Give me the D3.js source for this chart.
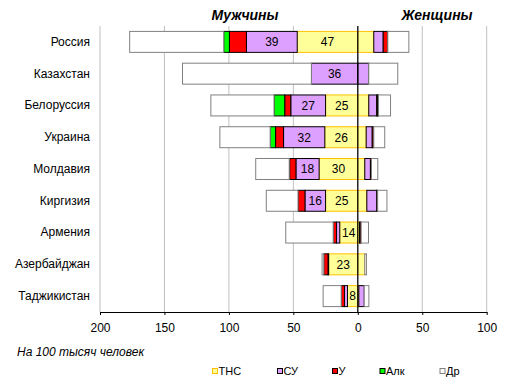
<!DOCTYPE html>
<html>
<head>
<meta charset="utf-8">
<script src="https://cdn.jsdelivr.net/npm/d3@7"></script>
<style>
	body { margin: 0; background: white; }
	text { font-family: Arial, "Liberation Sans", sans-serif; }
</style>
</head>
<body>
<script>

//****************************************************************************************************************************//
// Data

var countries = ["Россия", "Казахстан", "Белоруссия", "Украина", "Молдавия", "Киргизия", "Армения", "Азербайджан", "Таджикистан"];
var causes = ["ТНС", "СУ", "У", "Алк", "Др"];

// men, per 100 000 (drawn to the left)
var men_TNS = [47, 0, 25, 25.6, 30, 25, 14, 22.6, 8];
var men_SU  = [39.4, 36, 27, 32, 18, 16, 2.5, 0.5, 2.3];
var men_U   = [13.2, 0, 4.7, 6.2, 4.9, 5.4, 2.6, 3.3, 2.6];
var men_Alk = [4.4, 0, 8.3, 4.2, 0.3, 0, 0, 0, 0];
var men_Dr  = [73, 100, 49, 39, 26, 24.6, 36.8, 1.3, 14];

// women, per 100 000 (drawn to the right)
var women_TNS = [12.4, 0, 8.5, 6.5, 5.4, 7, 1.3, 5.4, 0.8];
var women_SU  = [7.3, 8.5, 6.2, 4.7, 4.4, 7.8, 0.5, 0, 4.2];
var women_U   = [3.6, 0, 0.8, 1.2, 0.8, 0.6, 0.8, 0, 0];
var women_Alk = [0, 0, 0.6, 0, 0, 0, 0, 0, 0];
var women_Dr  = [16.3, 22.5, 9.3, 8.5, 4.9, 7.2, 5.7, 1.3, 3.6];

var xTicks = [-200, -150, -100, -50, 0, 50, 100];

//****************************************************************************************************************************//
// Canvas

var width = 512;
var height = 388;

var canvas = d3.select("body").append("svg")
				.attr("width", width)
				.attr("height", height);

var fills = { "ТНС" : "#FFFF99", "СУ" : "#DDA0FF", "У" : "#FF0000", "Алк" : "#00FF00", "Др" : "#FFFFFF" };
var strokes = { "ТНС" : "#FFC000", "СУ" : "#000000", "У" : "#000000", "Алк" : "#000000", "Др" : "#808080" };

var plot = { left : 100, right : 486.7, top : 26, bottom : 312 };

var x = d3.scaleLinear()
			.domain([-200, 100])
			.range([plot.left, plot.right]);

var y = d3.scaleBand()
			.domain(countries)
			.range([plot.top, plot.bottom])
			.paddingInner(0.34)
			.paddingOuter(0.17);

//****************************************************************************************************************************//
// Stacks

var menTable = countries.map(function(c, i){
	return { country : c, "ТНС" : men_TNS[i], "СУ" : men_SU[i], "У" : men_U[i], "Алк" : men_Alk[i], "Др" : men_Dr[i] };
});
var womenTable = countries.map(function(c, i){
	return { country : c, "ТНС" : women_TNS[i], "СУ" : women_SU[i], "У" : women_U[i], "Алк" : women_Alk[i], "Др" : women_Dr[i] };
});

var stack = d3.stack().keys(causes);
var menStack = stack(menTable);
var womenStack = stack(womenTable);

//****************************************************************************************************************************//
// Grid

canvas.append("g")
	.selectAll("line")
	.data(xTicks.filter(function(t){ return t != 0; }))
	.join("line")
		.attr("x1", function(d){ return x(d); })
		.attr("x2", function(d){ return x(d); })
		.attr("y1", plot.top)
		.attr("y2", plot.bottom)
		.attr("stroke", "#C0C0C0")
		.attr("stroke-width", 1);

//****************************************************************************************************************************//
// Bars

function drawSide(series, sign){
	var g = canvas.append("g");
	series.forEach(function(s){
		g.append("g")
			.selectAll("rect")
			.data(s.filter(function(d){ return d[1] - d[0] > 0; }))
			.join("rect")
				.attr("x", function(d){ return sign < 0 ? x(-d[1]) : x(d[0]); })
				.attr("y", function(d){ return y(d.data.country); })
				.attr("width", function(d){ return Math.abs(x(d[1]) - x(d[0])); })
				.attr("height", y.bandwidth())
				.attr("fill", fills[s.key])
				.attr("stroke", strokes[s.key])
				.attr("stroke-width", 1);
	});
}

drawSide(menStack, -1);
drawSide(womenStack, 1);

// value labels on men ТНС and СУ
menStack.filter(function(s){ return s.key == "ТНС" || s.key == "СУ"; }).forEach(function(s){
	canvas.append("g")
		.selectAll("text")
		.data(s.filter(function(d){ return d[1] - d[0] >= 5; }))
		.join("text")
			.attr("x", function(d){ return x(-(d[0] + d[1]) / 2); })
			.attr("y", function(d){ return y(d.data.country) + y.bandwidth() / 2; })
			.attr("dy", "0.36em")
			.attr("text-anchor", "middle")
			.style("font-size", "12px")
			.attr("fill", "#000")
			.text(function(d){ return Math.round(d[1] - d[0]); });
});

// zero line
canvas.append("line")
	.attr("x1", x(0))
	.attr("x2", x(0))
	.attr("y1", plot.top)
	.attr("y2", plot.bottom)
	.attr("stroke", "#000")
	.attr("stroke-width", 1.3);

//****************************************************************************************************************************//
// Axes

var xAxis = d3.axisBottom(x)
				.tickValues(xTicks)
				.tickSize(3)
				.tickSizeOuter(0)
				.tickFormat(function(d){ return Math.abs(d); });

var xAxisG = canvas.append("g")
				.attr("transform", "translate(0," + plot.bottom + ")")
				.call(xAxis);

xAxisG.select(".domain").attr("stroke", "#000");
xAxisG.selectAll(".tick line").attr("stroke", "#000");
xAxisG.selectAll(".tick text")
	.attr("y", 11)
	.style("font-size", "12px")
	.style("font-family", "Arial, 'Liberation Sans', sans-serif")
	.attr("fill", "#000");

var yAxisG = canvas.append("g")
				.attr("transform", "translate(" + plot.left + ",0)")
				.call(d3.axisLeft(y).tickSize(0).tickPadding(10));

yAxisG.select(".domain").remove();
yAxisG.selectAll(".tick text")
	.style("font-size", "12px")
	.style("font-family", "Arial, 'Liberation Sans', sans-serif")
	.attr("fill", "#000");

//****************************************************************************************************************************//
// Titles

canvas.append("text")
	.attr("x", 245)
	.attr("y", 20)
	.attr("text-anchor", "middle")
	.style("font-size", "14px")
	.style("font-weight", "bold")
	.style("font-style", "italic")
	.text("Мужчины");

canvas.append("text")
	.attr("x", 437)
	.attr("y", 20)
	.attr("text-anchor", "middle")
	.style("font-size", "14px")
	.style("font-weight", "bold")
	.style("font-style", "italic")
	.text("Женщины");

canvas.append("text")
	.attr("x", 17)
	.attr("y", 356)
	.style("font-size", "12px")
	.style("font-style", "italic")
	.text("На 100 тысяч человек");

//****************************************************************************************************************************//
// Legend

var legendX = [212, 277, 332, 379.5, 439.5];

var legend = canvas.append("g")
				.selectAll("g")
				.data(causes)
				.join("g")
					.attr("transform", function(d, i){ return "translate(" + legendX[i] + ",368)"; });

legend.append("rect")
	.attr("x", 0.5)
	.attr("y", 0.5)
	.attr("width", 5)
	.attr("height", 5)
	.attr("fill", function(d){ return fills[d]; })
	.attr("stroke", function(d){ return strokes[d]; })
	.attr("stroke-width", 1);

legend.append("text")
	.attr("x", 6.5)
	.attr("y", 7)
	.style("font-size", "11px")
	.text(function(d){ return d; });

</script>
</body>
</html>
